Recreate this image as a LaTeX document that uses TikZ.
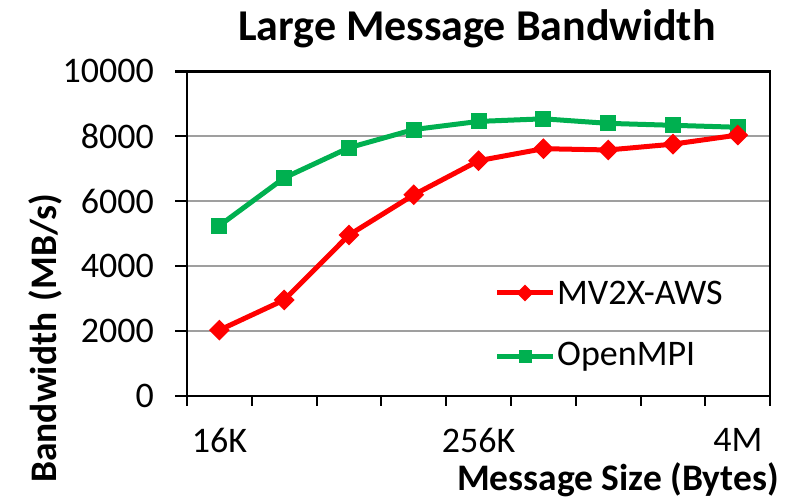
\documentclass[tikz,border=0pt]{standalone}
\usepackage{fontspec}
\setmainfont{Carlito}
\usetikzlibrary{shapes.geometric,positioning,calc}
\definecolor{ompgreen}{RGB}{0,176,80}

\begin{document}
\begin{tikzpicture}[x=1pt, y=1pt, font=\fontsize{36}{42}\selectfont,
  gridline/.style={draw=gray!75, line width=2pt},
  axisline/.style={draw=black, line width=2.4pt},
  tick/.style={draw=black, line width=2pt},
  mvline/.style={draw=red, line width=5pt, line join=round},
  ompline/.style={draw=ompgreen, line width=5pt, line join=round},
  mvmark/.style={diamond, fill=red, inner sep=0pt, minimum size=21pt},
  ompmark/.style={rectangle, fill=ompgreen, inner sep=0pt, minimum size=16pt},
  ticklabel/.style={inner sep=0pt}]

\useasboundingbox (-187,-106) rectangle (618,396);

% styles for the chart area
\tikzset{
  title/.style={font=\fontsize{44}{50}\selectfont\bfseries, inner sep=0pt},
  axistitle/.style={font=\fontsize{37.5}{44}\selectfont\bfseries, inner sep=0pt}
}

\node[title] (T) at (290,367) {Large Message Bandwidth};

% grid and frame
\foreach \v in {2000,4000,6000,8000}
  \draw[gridline] (0,{\v*0.03245}) -- (583,{\v*0.03245});
\draw[axisline] (-12,324.5) -- (583,324.5) -- (583,0);
\draw[axisline] (0,324.5) -- (0,0) -- (583,0);

% y ticks and labels
\foreach \v in {0,2000,4000,6000,8000,10000} {
  \draw[tick] (-12,{\v*0.03245}) -- (0,{\v*0.03245});
  \node[ticklabel, anchor=east] (y\v) at (-33,{\v*0.03245}) {\v};
}

% x ticks
\foreach \k in {0,...,9}
  \draw[tick] ({\k*64.8},0) -- ({\k*64.8},-10);
\node[ticklabel] (x16K) at (32.4,-44) {16K};
\node[ticklabel] (x256K) at (291.6,-44) {256K};
\node[ticklabel] (x4M) at (550.8,-44) {4M};

\node[axistitle, anchor=east] (XT) at (592,-84) {Message Size (Bytes)};
\node[axistitle, rotate=90, anchor=west] (YT) at (-142,-87) {Bandwidth\hspace{0.3em}(MB/s)};

% data points
\begin{scope}[x=64.8pt, y=0.03245pt]
  \foreach \v [count=\i from 0] in {5250,6720,7650,8210,8460,8540,8400,8340,8280}
    \coordinate (o\i) at (\i+0.5,\v);
  \foreach \v [count=\i from 0] in {2030,2960,4960,6200,7250,7620,7580,7760,8040}
    \coordinate (m\i) at (\i+0.5,\v);
\end{scope}

\draw[ompline] (o0) -- (o1) -- (o2) -- (o3) -- (o4) -- (o5) -- (o6) -- (o7) -- (o8);
\draw[mvline] (m0) -- (m1) -- (m2) -- (m3) -- (m4) -- (m5) -- (m6) -- (m7) -- (m8);
\foreach \i in {0,...,8} {
  \node[ompmark] (O\i) at (o\i) {};
  \node[mvmark] (M\i) at (m\i) {};
}

% legend
\coordinate (la) at (310,103);
\coordinate (lb) at (366,103);
\draw[mvline] (la) -- (lb);
\node[mvmark, minimum size=17pt] (LM) at ($(la)!0.5!(lb)$) {};
\node[ticklabel, anchor=west] (LMt) at (370,103) {MV2X-AWS};

\coordinate (lc) at (310,39);
\coordinate (ld) at (366,39);
\draw[ompline] (lc) -- (ld);
\node[ompmark, minimum size=13pt] (LO) at ($(lc)!0.5!(ld)$) {};
\node[ticklabel, anchor=west] (LOt) at (370,39) {OpenMPI};

\end{tikzpicture}
\end{document}
